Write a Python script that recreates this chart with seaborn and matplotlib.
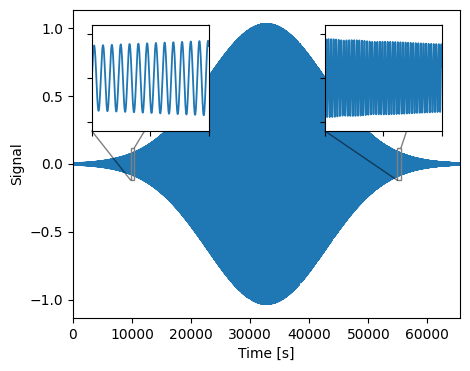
import numpy as np
import matplotlib
matplotlib.use("Agg")
import matplotlib.pyplot as plt
import seaborn as sns
from matplotlib.patches import Rectangle, ConnectionPatch

# Signal parameters (chirp under a bell-shaped envelope)
n_samples = 65536
env_peak = 1.03
env_center = 32768
env_width = 10000
freq_start = 0.0104   # cycles per second at t = 0
freq_slope = 1.10e-6  # increase of frequency per second

# Zoom windows shown in the two insets
inset_left_x = [9800, 10420]
inset_right_x = [54900, 55540]
inset_y = [-0.12, 0.12]
inset_yticks = [-0.1, 0.0, 0.1]

t = np.arange(n_samples)
envelope = env_peak * np.exp(-((t - env_center) ** 2) / (2 * env_width ** 2))
phase = 2 * np.pi * (freq_start * t + 0.5 * freq_slope * t ** 2)
signal = envelope * np.cos(phase)

fig, ax = plt.subplots(figsize=(4.7, 3.71), dpi=100)
fig.subplots_adjust(left=0.155, right=0.979, bottom=0.143, top=0.973)

sns.lineplot(x=t, y=signal, ax=ax, estimator=None, color="C0", linewidth=1.5)
ax.set_xlim(0, n_samples)
ax.set_xlabel("Time [s]")
ax.set_ylabel("Signal")

# Insets
for x0, xlim in [(0.049, inset_left_x), (0.651, inset_right_x)]:
    axins = ax.inset_axes([x0, 0.607, 0.302, 0.344])
    mask = (t >= xlim[0]) & (t <= xlim[1])
    sns.lineplot(x=t[mask], y=signal[mask], ax=axins, estimator=None,
                 color="C0", linewidth=1.3)
    axins.set_xlim(*xlim)
    axins.set_ylim(*inset_y)
    axins.set_xticks([xlim[0], (xlim[0] + xlim[1]) / 2, xlim[1]])
    axins.set_yticks(inset_yticks)
    axins.set_xticklabels([])
    axins.set_yticklabels([])
    axins.set_xlabel("")
    axins.set_ylabel("")

    # box around the zoomed region
    ax.add_patch(Rectangle((xlim[0], inset_y[0]), xlim[1] - xlim[0],
                           inset_y[1] - inset_y[0], fc="none", ec="0.5",
                           lw=1.0, zorder=4))
    # connectors: upper right and lower left corners, drawn below the inset
    for (xa, ya), xyb in [((xlim[1], inset_y[1]), (1, 1)),
                          ((xlim[0], inset_y[0]), (0, 0))]:
        con = ConnectionPatch(xyA=(xa, ya), coordsA=ax.transData,
                              xyB=xyb, coordsB=axins.transAxes,
                              color="black", alpha=0.5, lw=1.0, zorder=4)
        ax.add_artist(con)

fig.savefig("out.png", dpi=100)
